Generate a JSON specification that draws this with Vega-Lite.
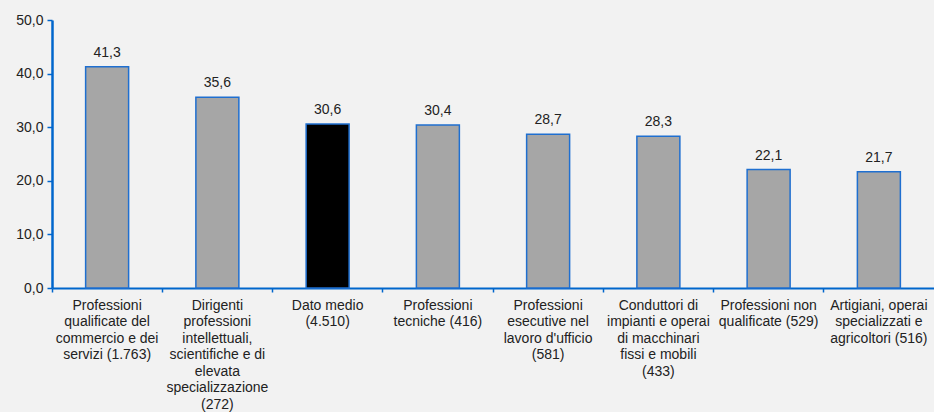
{
  "$schema": "https://vega.github.io/schema/vega-lite/v6.json",
  "width": 882,
  "height": 268,
  "autosize": {"type": "none"},
  "padding": {"left": 52, "top": 20, "right": 0, "bottom": 124},
  "background": "#f2f2f2",
  "config": {
    "locale": {"number": {"decimal": ",", "thousands": ".", "grouping": [3], "currency": ["", " €"]}},
    "view": {"stroke": null},
    "font": "Liberation Sans"
  },
  "data": {
    "values": [
      {"categoria": "Professioni|qualificate del|commercio e dei|servizi (1.763)", "valore": 41.3, "tipo": "altro"},
      {"categoria": "Dirigenti|professioni|intellettuali,|scientifiche e di|elevata|specializzazione|(272)", "valore": 35.6, "tipo": "altro"},
      {"categoria": "Dato medio|(4.510)", "valore": 30.6, "tipo": "medio"},
      {"categoria": "Professioni|tecniche (416)", "valore": 30.4, "tipo": "altro"},
      {"categoria": "Professioni|esecutive nel|lavoro d'ufficio|(581)", "valore": 28.7, "tipo": "altro"},
      {"categoria": "Conduttori di|impianti e operai|di macchinari|fissi e mobili|(433)", "valore": 28.3, "tipo": "altro"},
      {"categoria": "Professioni non|qualificate (529)", "valore": 22.1, "tipo": "altro"},
      {"categoria": "Artigiani, operai|specializzati e|agricoltori (516)", "valore": 21.7, "tipo": "altro"}
    ]
  },
  "encoding": {
    "x": {
      "field": "categoria",
      "type": "nominal",
      "sort": null,
      "scale": {"paddingInner": 0, "paddingOuter": 0},
      "axis": {
        "title": null,
        "labelAngle": 0,
        "labelExpr": "split(datum.label, '|')",
        "labelFont": "Liberation Sans",
        "labelFontSize": 14,
        "labelColor": "#222222",
        "labelLineHeight": 16.5,
        "labelPadding": 6,
        "labelBaseline": "top",
        "labelLimit": 0,
        "bandPosition": 0,
        "domainColor": "#0066cc",
        "domainWidth": 2,
        "tickColor": "#0066cc",
        "tickWidth": 1.5,
        "tickSize": 4,
        "grid": false
      }
    },
    "y": {
      "field": "valore",
      "type": "quantitative",
      "scale": {"domain": [0, 50], "nice": false},
      "axis": {
        "title": null,
        "values": [0, 10, 20, 30, 40, 50],
        "format": ".1f",
        "labelFont": "Liberation Sans",
        "labelFontSize": 14,
        "labelColor": "#222222",
        "labelPadding": 4,
        "domainColor": "#0066cc",
        "domainWidth": 2.5,
        "tickColor": "#0066cc",
        "tickWidth": 1.5,
        "tickSize": 5,
        "grid": false
      }
    }
  },
  "layer": [
    {
      "mark": {"type": "bar", "width": {"band": 0.39}, "stroke": "#1f6fd0", "strokeWidth": 1.5},
      "encoding": {
        "color": {
          "field": "tipo",
          "type": "nominal",
          "scale": {"domain": ["altro", "medio"], "range": ["#a6a6a6", "#000000"]},
          "legend": null
        }
      }
    },
    {
      "mark": {"type": "text", "dy": -7, "baseline": "bottom", "fontSize": 14, "color": "#222222", "font": "Liberation Sans"},
      "encoding": {
        "text": {"field": "valore", "type": "quantitative", "format": ".1f"}
      }
    }
  ]
}
